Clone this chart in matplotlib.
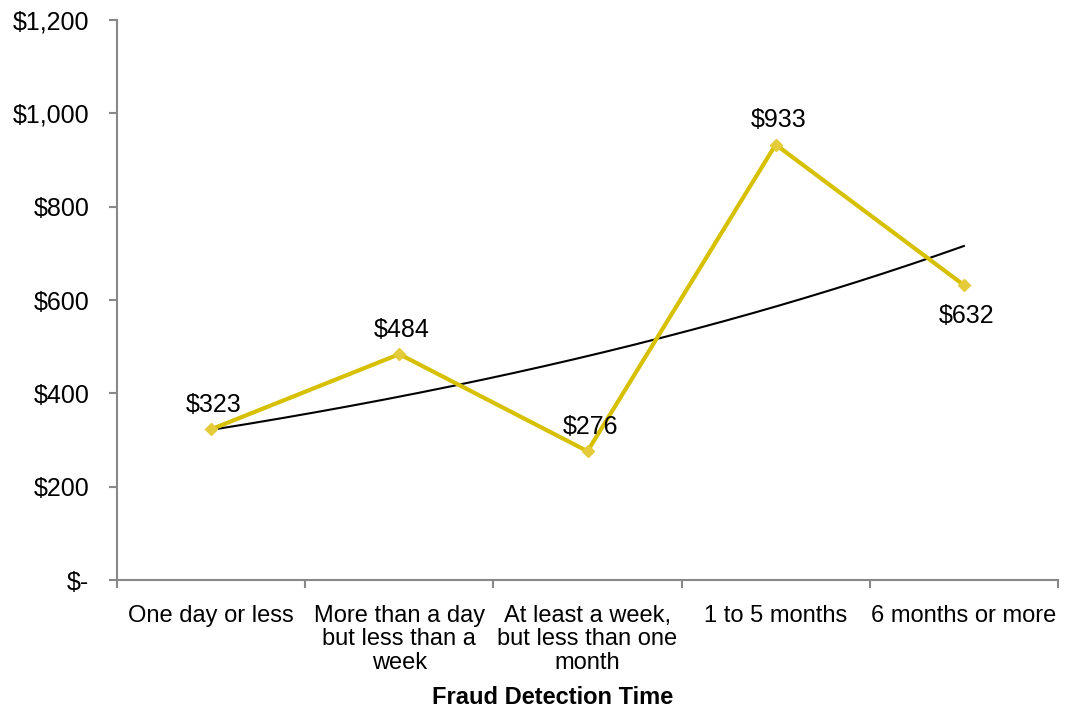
import numpy as np
import matplotlib
matplotlib.use('Agg')
import matplotlib.pyplot as plt
from matplotlib.ticker import FuncFormatter

plt.rcParams['font.family'] = ['Liberation Sans', 'DejaVu Sans']

categories = ['One day or less', 'More than a day\nbut less than a\nweek',
              'At least a week,\nbut less than one\nmonth', '1 to 5 months',
              '6 months or more']
losses = [323, 484, 276, 933, 632]
label_below = [False, False, False, False, True]

x = np.arange(1, len(losses) + 1)

# exponential trendline, fitted like Excel does (log of y)
b, a = np.polyfit(x, np.log(losses), 1)
xt = np.linspace(1, len(losses), 200)
yt = np.exp(a + b * xt)

fig = plt.figure(figsize=(10.68, 7.11), dpi=100)
ax = fig.add_axes([0.1096, 0.1842, 0.881, 0.7877])

ax.plot(x, losses, color='#D6C000', lw=3, marker='D', ms=6.5,
        mfc='#E3CB3A', mec='#E3CB3A', zorder=3)
ax.plot(xt, yt, color='black', lw=1.5, zorder=2)

for xi, v, below in zip(x, losses, label_below):
    off = -22 if below else 17.5
    ax.annotate('$' + str(v), (xi, v), xytext=(2, off), textcoords='offset points',
                ha='center', va='center', fontsize=18)

ax.set_xlim(0.5, len(losses) + 0.5)
ax.set_ylim(0, 1200)
ax.set_yticks(np.arange(0, 1201, 200))
ax.yaxis.set_major_formatter(FuncFormatter(lambda v, p: '$-' if v == 0 else '${:,.0f}'.format(v)))

ax.set_xticks(np.arange(0.5, len(losses) + 1, 1))
ax.set_xticklabels([])
ax.set_xticks(x, minor=True)
ax.set_xticklabels(categories, minor=True, fontsize=17, linespacing=1.08)
ax.tick_params(axis='x', which='minor', length=0, pad=18)
ax.tick_params(axis='x', which='major', length=6, width=1.5, color='#888888', direction='out')
ax.tick_params(axis='y', length=6, width=1.5, color='#888888', labelsize=18, pad=14)

for s in ['top', 'right']:
    ax.spines[s].set_visible(False)
for s in ['left', 'bottom']:
    ax.spines[s].set_color('#888888')
    ax.spines[s].set_linewidth(1.5)

ax.set_xlabel('Fraud Detection Time', fontsize=17, fontweight='bold', labelpad=9)
ax.xaxis.label.set_x(0.463)

fig.savefig('out.png', dpi=100)
